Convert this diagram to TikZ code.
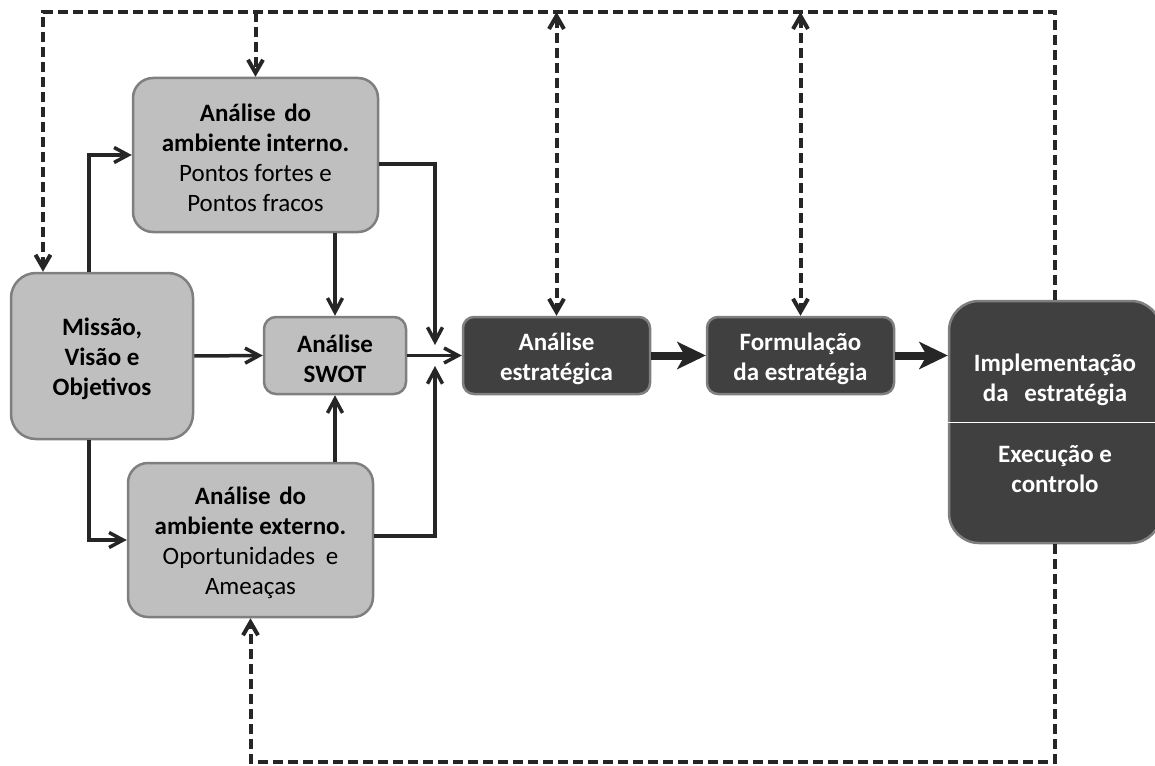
\documentclass[tikz,border=0pt]{standalone}
\usepackage{fontspec}
\setmainfont{Carlito}
\usetikzlibrary{arrows.meta}
\definecolor{boxlight}{HTML}{BFBFBF}
\definecolor{boxdark}{HTML}{404040}
\definecolor{boxedge}{HTML}{7F7F7F}
\definecolor{ink}{HTML}{262626}
\tikzset{
  fbtip/.tip={Straight Barb[length=13pt,width=15pt]},
  flowtip/.tip={Straight Barb[length=14pt,width=15pt]},
}
\begin{document}
\begin{tikzpicture}[x=1pt,y=-1pt,
  txt/.style={font=\fontsize{25}{30}\selectfont, align=center, inner sep=0pt},
  boldtxt/.style={font=\fontsize{25}{30}\selectfont\bfseries, align=center, inner sep=0pt},
  lightbox/.style={draw=boxedge, fill=boxlight, line width=2.5pt, inner sep=0pt},
  darkbox/.style={draw=boxedge, fill=boxdark, line width=2.5pt, inner sep=0pt},
  conn/.style={draw=ink, line width=3.5pt, -{flowtip}},
  fbline/.style={draw=ink, line width=4pt, dash pattern=on 10pt off 5pt},
  bigarrow/.style={draw=ink, line width=8pt, -{Stealth[length=29pt,width=28pt,inset=8pt,line width=0pt]}}]
\useasboundingbox (0,0) rectangle (1155,765);

% reference heights of the feedback loops
\coordinate (ytop) at (0,12);
\coordinate (ybot) at (0,762);

% boxes
\node[lightbox, rounded corners=20pt, minimum width=245pt, minimum height=154pt] (internal) at (255.5,155) {};
\node[lightbox, rounded corners=25pt, minimum width=182pt, minimum height=166pt] (missao) at (102,356) {};
\node[lightbox, rounded corners=12pt, minimum width=142pt, minimum height=77pt] (swot) at (335,355.5) {};
\node[lightbox, rounded corners=20pt, minimum width=245pt, minimum height=154pt] (external) at (250.5,540) {};
\node[darkbox, rounded corners=11pt, minimum width=187pt, minimum height=77pt] (estr) at (556.5,355.5) {};
\node[darkbox, rounded corners=11pt, minimum width=187pt, minimum height=77pt] (form) at (800.5,355.5) {};
\node[darkbox, rounded corners=30pt, minimum width=212pt, minimum height=242pt] (impl) at (1055,422) {};
\draw[white, line width=1pt] (impl.west) -- (impl.east);

% box texts
\node[txt] (internal-t) at ([yshift=-3pt]internal.center)
  {{\bfseries Análise\hspace{3pt} do}\\{\bfseries ambiente interno.}\\Pontos fortes e\\Pontos fracos};
\node[boldtxt] (missao-t) at ([yshift=-3pt]missao.center) {Missão,\\Visão e\\Objetivos};
\node[boldtxt] (swot-t) at ([yshift=-3pt]swot.center) {Análise\\SWOT};
\node[txt] (external-t) at ([yshift=-3pt]external.center)
  {{\bfseries Análise\hspace{3pt} do}\\{\bfseries ambiente externo.}\\Oportunidades\hspace{5pt} e\\Ameaças};
\node[boldtxt, text=white] (estr-t) at ([yshift=-3pt]estr.center) {Análise\\estratégica};
\node[boldtxt, text=white] (form-t) at ([yshift=-3pt]form.center) {Formulação\\da estratégia};
\node[boldtxt, text=white] (implup) at (1055,380) {Implementação\\da\hspace{10pt} estratégia};
\node[boldtxt, text=white] (impldown) at (1055,469) {Execução e\\controlo};

% merge points in front of the strategic analysis
\coordinate (inA) at (435,345);
\coordinate (inB) at (435,366);

% solid flow
\draw[conn] ([xshift=-13pt]missao.north) |- (internal.west);
\draw[conn] ([xshift=-13pt]missao.south) |- (external.west);
\draw[conn] (missao.east) -- (swot.west);
\draw[conn] (internal.south -| swot.north) -- (swot.north);
\draw[conn] (external.north -| swot.south) -- (swot.south);
\draw[conn] ([yshift=-9pt]internal.east) -| (inA);
\draw[conn] ([yshift=4pt]external.east) -| (inB);
\draw[conn] (swot.east) -- (estr.west);

% main sequence
\draw[bigarrow] (estr.east) -- (form.west);
\draw[bigarrow] (form.east) -- (form.east -| impl.west);

% feedback loops
\draw[fbline, -{fbtip}] (impl.north) -- (impl.north |- ytop) -| ([xshift=-59pt]missao.north);
\draw[fbline, -{fbtip}] (internal.north |- ytop) -- (internal.north);
\draw[fbline, {fbtip}-{fbtip}] (estr.north |- ytop) -- (estr.north);
\draw[fbline, {fbtip}-{fbtip}] (form.north |- ytop) -- (form.north);
\draw[fbline, -{fbtip}] (impl.south) -- (impl.south |- ybot) -| (external.south);
\end{tikzpicture}
\end{document}
